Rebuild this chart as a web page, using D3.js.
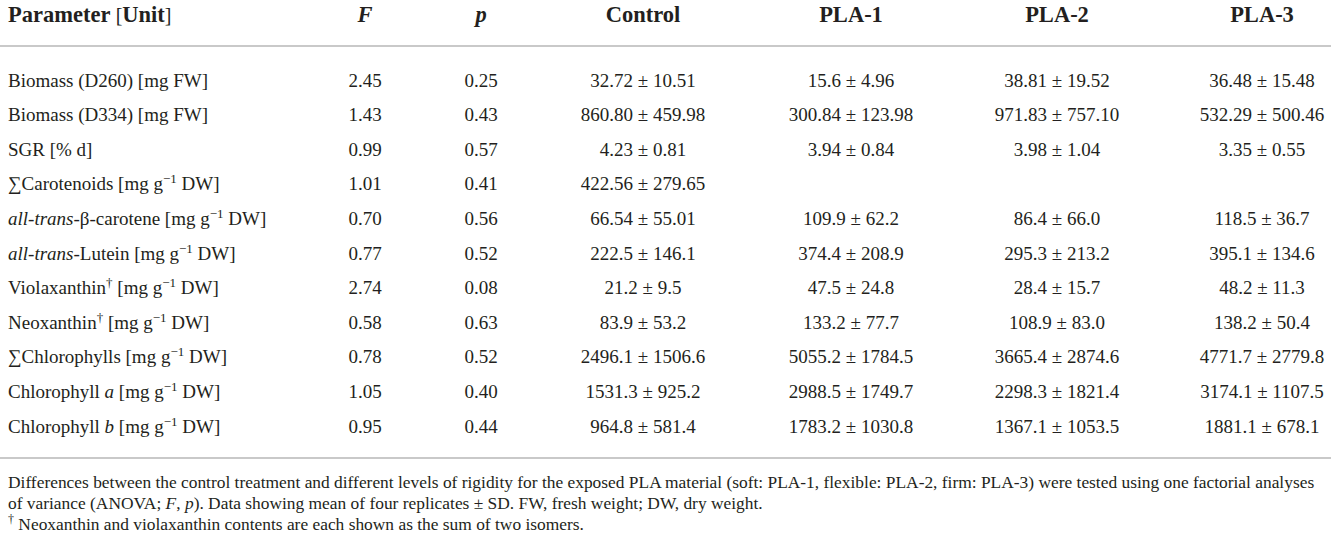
<!DOCTYPE html>
<html>
<head>
<meta charset="utf-8">
<script src="https://cdn.jsdelivr.net/npm/d3@7"></script>
<style>
  body { margin: 0; background: #fff; }
  svg { display: block; font-family: "Liberation Serif", "Times New Roman", serif; }
</style>
</head>
<body>
<svg id="chart" width="1331" height="538"></svg>
<script>
// parameter labels, as text pieces (i = italic, sup = superscript)
var paramLabels = [
  [{t: "Biomass (D260) [mg FW]"}],
  [{t: "Biomass (D334) [mg FW]"}],
  [{t: "SGR [% d]"}],
  [{t: "\u2211Carotenoids [mg g"}, {t: "\u22121", sup: true}, {t: " DW]"}],
  [{t: "all-trans", i: true}, {t: "-\u03b2-carotene [mg g"}, {t: "\u22121", sup: true}, {t: " DW]"}],
  [{t: "all-trans", i: true}, {t: "-Lutein [mg g"}, {t: "\u22121", sup: true}, {t: " DW]"}],
  [{t: "Violaxanthin"}, {t: "\u2020", sup: true}, {t: "  [mg g"}, {t: "\u22121", sup: true}, {t: " DW]"}],
  [{t: "Neoxanthin"}, {t: "\u2020", sup: true}, {t: "  [mg g"}, {t: "\u22121", sup: true}, {t: " DW]"}],
  [{t: "\u2211Chlorophylls [mg g"}, {t: "\u22121", sup: true}, {t: " DW]"}],
  [{t: "Chlorophyll "}, {t: "a", i: true}, {t: " [mg g"}, {t: "\u22121", sup: true}, {t: " DW]"}],
  [{t: "Chlorophyll "}, {t: "b", i: true}, {t: " [mg g"}, {t: "\u22121", sup: true}, {t: " DW]"}]
];

var fValues = ["2.45", "1.43", "0.99", "1.01", "0.70", "0.77", "2.74", "0.58", "0.78", "1.05", "0.95"];
var pValues = ["0.25", "0.43", "0.57", "0.41", "0.56", "0.52", "0.08", "0.63", "0.52", "0.40", "0.44"];

var controlMean = ["32.72", "860.80", "4.23", "422.56", "66.54", "222.5", "21.2", "83.9", "2496.1", "1531.3", "964.8"];
var controlSD   = ["10.51", "459.98", "0.81", "279.65", "55.01", "146.1", "9.5", "53.2", "1506.6", "925.2", "581.4"];
var pla1Mean = ["15.6", "300.84", "3.94", "", "109.9", "374.4", "47.5", "133.2", "5055.2", "2988.5", "1783.2"];
var pla1SD   = ["4.96", "123.98", "0.84", "", "62.2", "208.9", "24.8", "77.7", "1784.5", "1749.7", "1030.8"];
var pla2Mean = ["38.81", "971.83", "3.98", "", "86.4", "295.3", "28.4", "108.9", "3665.4", "2298.3", "1367.1"];
var pla2SD   = ["19.52", "757.10", "1.04", "", "66.0", "213.2", "15.7", "83.0", "2874.6", "1821.4", "1053.5"];
var pla3Mean = ["36.48", "532.29", "3.35", "", "118.5", "395.1", "48.2", "138.2", "4771.7", "3174.1", "1881.1"];
var pla3SD   = ["15.48", "500.46", "0.55", "", "36.7", "134.6", "11.3", "50.4", "2779.8", "1107.5", "678.1"];

var groups = ["Control", "PLA-1", "PLA-2", "PLA-3"];

var footnotes = [
  [{t: "Differences between the control treatment and different levels of rigidity for the exposed PLA material (soft: PLA-1, flexible: PLA-2, firm: PLA-3) were tested using one factorial analyses"}],
  [{t: "of variance (ANOVA; "}, {t: "F", i: true}, {t: ", "}, {t: "p", i: true}, {t: "). Data showing mean of four replicates \u00b1 SD. FW, fresh weight; DW, dry weight."}],
  [{t: "\u2020", sup: true}, {t: " Neoxanthin and violaxanthin contents are each shown as the sum of two isomers."}]
];

var svg = d3.select("#chart"),
    textColor = "#231f20",
    ruleColor = "#c9c9c9";

// column centres
var colX = {param: 8, F: 365, p: 481, Control: 643, "PLA-1": 851, "PLA-2": 1057, "PLA-3": 1262};

var y = d3.scaleLinear()
    .domain([0, paramLabels.length - 1])
    .range([80, 426]);

// tspans carry their own dy, so text using this is placed on its baseline
function addPieces(text, pieces, supSize) {
  var shifted = false;
  pieces.forEach(function(p) {
    var ts = text.append("tspan").text(p.t);
    if (p.i) ts.attr("font-style", "italic");
    if (p.sup) {
      ts.attr("font-size", supSize);
      if (!shifted) ts.attr("dy", -7);
      shifted = true;
    } else if (shifted) {
      ts.attr("dy", 7);
      shifted = false;
    }
  });
}

// header
var header = svg.append("g")
    .attr("fill", textColor)
    .attr("font-size", "22.5px")
    .attr("font-weight", "bold");

var h0 = header.append("text").attr("x", colX.param).attr("y", 14).attr("dy", "0.35em");
h0.append("tspan").text("Parameter ");
h0.append("tspan").attr("font-weight", "normal").attr("font-size", "20px").text("[");
h0.append("tspan").text("Unit");
h0.append("tspan").attr("font-weight", "normal").attr("font-size", "20px").text("]");

header.append("text").attr("x", colX.F).attr("y", 14).attr("dy", "0.35em")
    .attr("text-anchor", "middle").attr("font-style", "italic").text("F");
header.append("text").attr("x", colX.p).attr("y", 14).attr("dy", "0.35em")
    .attr("text-anchor", "middle").attr("font-style", "italic").text("p");

header.selectAll("text.grp")
    .data(groups)
  .enter().append("text")
    .attr("class", "grp")
    .attr("x", function(d) { return colX[d]; })
    .attr("y", 14)
    .attr("dy", "0.35em")
    .attr("text-anchor", "middle")
    .text(function(d) { return d; });

// rules
svg.append("line").attr("x1", 0).attr("x2", 1331).attr("y1", 46).attr("y2", 46)
    .attr("stroke", ruleColor).attr("stroke-width", 2);
svg.append("line").attr("x1", 0).attr("x2", 1331).attr("y1", 458).attr("y2", 458)
    .attr("stroke", ruleColor).attr("stroke-width", 2);

// body rows
var body = svg.append("g")
    .attr("fill", textColor)
    .attr("font-size", "19px");

var rows = body.selectAll("g.row")
    .data(paramLabels)
  .enter().append("g")
    .attr("class", "row")
    .attr("transform", function(d, i) { return "translate(0," + y(i) + ")"; });

rows.append("text")
    .attr("x", colX.param)
    .attr("y", 6.5)
    .each(function(d) { addPieces(d3.select(this), d, "13px"); });

rows.append("text")
    .attr("x", colX.F).attr("dy", "0.35em").attr("text-anchor", "middle")
    .text(function(d, i) { return fValues[i]; });

rows.append("text")
    .attr("x", colX.p).attr("dy", "0.35em").attr("text-anchor", "middle")
    .text(function(d, i) { return pValues[i]; });

var groupData = [
  {name: "Control", mean: controlMean, sd: controlSD},
  {name: "PLA-1", mean: pla1Mean, sd: pla1SD},
  {name: "PLA-2", mean: pla2Mean, sd: pla2SD},
  {name: "PLA-3", mean: pla3Mean, sd: pla3SD}
];

groupData.forEach(function(g) {
  rows.append("text")
      .attr("x", colX[g.name]).attr("dy", "0.35em").attr("text-anchor", "middle")
      .text(function(d, i) {
        if (g.mean[i] === "") return "";
        return g.mean[i] + " \u00b1 " + g.sd[i];
      });
});

// footnotes
var foot = svg.append("g")
    .attr("fill", textColor)
    .attr("font-size", "17.4px");

foot.selectAll("text")
    .data(footnotes)
  .enter().append("text")
    .attr("x", colX.param)
    .attr("y", function(d, i) { return 488 + i * 21; })
    .each(function(d) { addPieces(d3.select(this), d, "12px"); });
</script>
</body>
</html>
